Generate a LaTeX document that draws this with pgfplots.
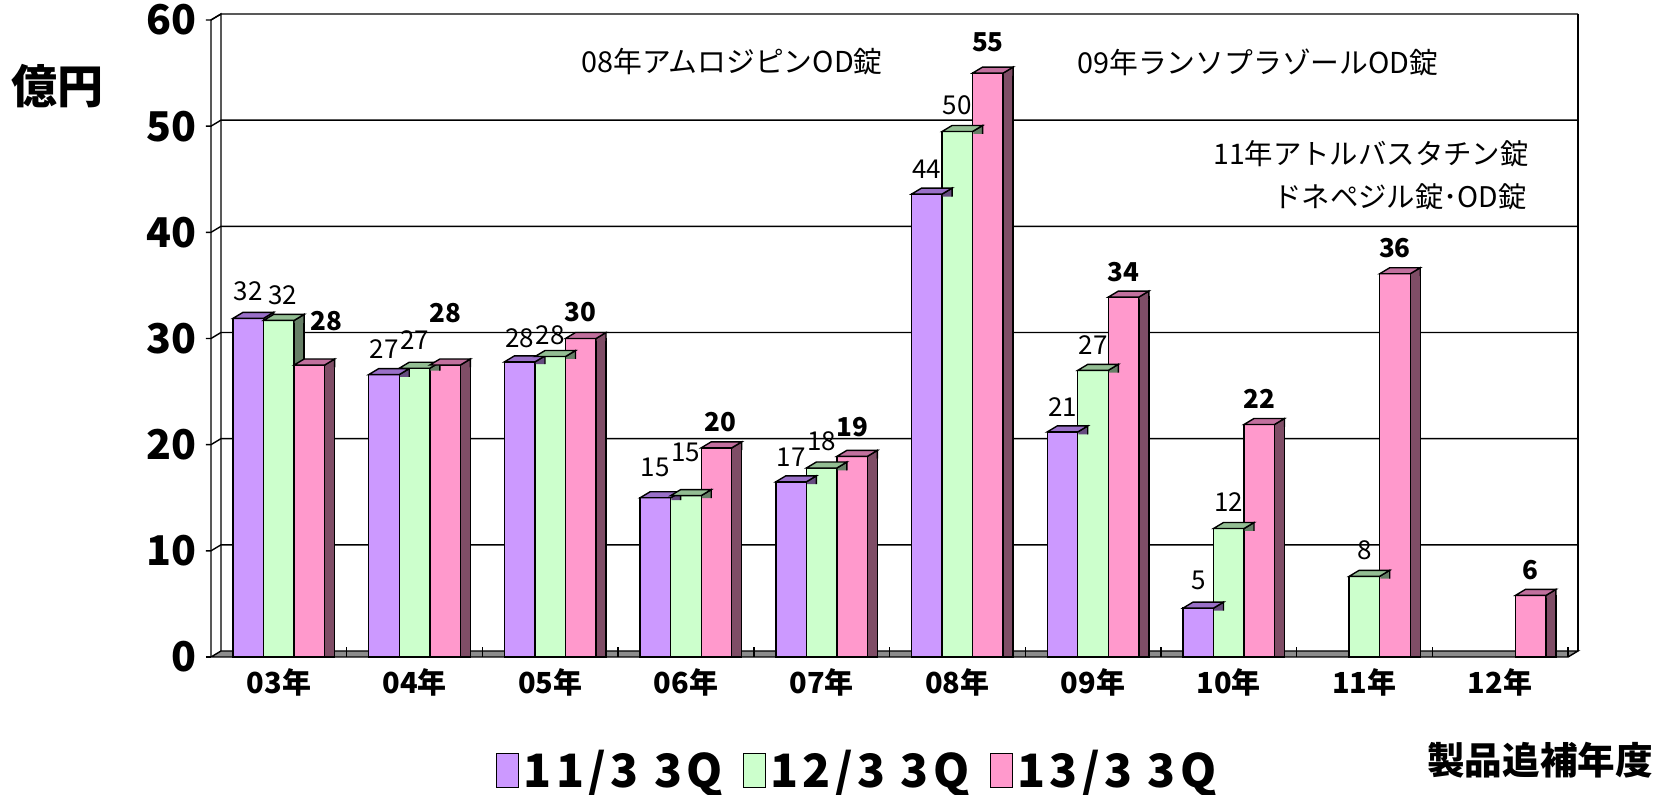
\documentclass[border=0pt]{standalone}
\usepackage{fontspec}
\setmainfont{Noto Sans CJK JP}
\usepackage{pgfplots}
\usepackage{pgfplotstable}
\pgfplotsset{compat=1.18}

\definecolor{frontP}{HTML}{CC99FF}
\definecolor{topP}{HTML}{9A70C8}
\definecolor{sideP}{HTML}{664C80}
\definecolor{frontG}{HTML}{CCFFCC}
\definecolor{topG}{HTML}{93BE93}
\definecolor{sideG}{HTML}{667F66}
\definecolor{frontK}{HTML}{FF99CC}
\definecolor{topK}{HTML}{C2709E}
\definecolor{sideK}{HTML}{7F4D66}

\newcommand\fs[1]{\fontsize{#1}{#1}\selectfont}

% top face + upper end of the side face of a bar (half width 7.63pt, depth 5pt x 3pt)
\newcommand\boxmark[2]{%
  \pgfsetfillcolor{#2}%
  \pgfpathmoveto{\pgfqpoint{7.95pt}{-1.2pt}}%
  \pgfpathlineto{\pgfqpoint{7.95pt}{0.2pt}}%
  \pgfpathlineto{\pgfqpoint{12.63pt}{3pt}}%
  \pgfpathlineto{\pgfqpoint{12.63pt}{-1.2pt}}%
  \pgfpathclose
  \pgfusepathqfill
  \pgfpathmoveto{\pgfqpoint{7.63pt}{0pt}}%
  \pgfpathlineto{\pgfqpoint{12.63pt}{3pt}}%
  \pgfpathlineto{\pgfqpoint{12.63pt}{-1.2pt}}%
  \pgfusepathqstroke
  \pgfsetfillcolor{#1}%
  \pgfpathmoveto{\pgfqpoint{-7.63pt}{0pt}}%
  \pgfpathlineto{\pgfqpoint{7.63pt}{0pt}}%
  \pgfpathlineto{\pgfqpoint{12.63pt}{3pt}}%
  \pgfpathlineto{\pgfqpoint{-2.63pt}{3pt}}%
  \pgfpathclose
  \pgfusepathqfillstroke
}
\pgfdeclareplotmark{boxP}{\boxmark{topP}{sideP}}
\pgfdeclareplotmark{boxG}{\boxmark{topG}{sideG}}
\pgfdeclareplotmark{boxK}{\boxmark{topK}{sideK}}

% x = category (0 = 03年), y = value, lab = label, gap = label gap (px), xo = label x offset (px)
\pgfplotstableread{
x y lab gap xo
0 31.9 32 17 0
1 26.6 27 15 0
2 27.8 28 13 0
3 15.0 15 20 0
4 16.5 17 15 0
5 43.6 44 15 0
6 21.2 21 15 0
7 4.6 5 18 0
}\tabP
\pgfplotstableread{
x y lab gap xo
0 31.7 32 15 4
1 27.2 27 18 0
2 28.3 28 11 0
3 15.2 15 33 0
4 17.8 18 16 0
5 49.5 50 16 0
6 27.0 27 15 0
7 12.1 12 16 0
8 7.6 8 16 0
}\tabG
\pgfplotstableread{
x y lab gap xo
0 27.5 28 33 17
1 27.5 28 41 0
2 30.0 30 16 0
3 19.7 20 15 4
4 18.9 19 19 0
5 55.0 55 21 0
6 33.9 34 15 0
7 21.9 22 15 0
8 36.1 36 15 0
9 5.8 6 15 0
}\tabK

\pgfplotsset{
  front/.style n args={2}{
    ybar, bar width=0.225, bar shift=0pt, fill=#1, draw=black, line width=0.7pt,
    mark=#2, mark options={draw=black, line width=0.7pt, solid},
    point meta=explicit, nodes near coords, nodes near coords align=vertical,
    visualization depends on={\thisrow{gap} \as \lgap},
    visualization depends on={\thisrow{xo} \as \lxo},
    legend image code/.code={\draw[fill=#1, draw=black, line width=0.7pt] (0pt,-8.5pt) rectangle (11pt,8.5pt);},
  },
  side/.style={
    ybar, bar width=0.0737, bar shift=0pt, fill=#1, draw=black, line width=0.7pt, forget plot,
  },
}

\begin{document}
\begin{tikzpicture}
\useasboundingbox (-105.5pt,-69pt) rectangle (728pt,328.5pt);

% floor, left wall and back wall
\begin{scope}[line width=0.7pt]
\draw[fill=black!45] (0,0) -- (678.5pt,0) -- (683.5pt,3pt) -- (5pt,3pt) -- cycle;
\draw (0,0) -- (0,318.5pt) -- (5pt,321.5pt) -- (5pt,3pt);
\draw (-2.5pt,0) -- (0,0);
\foreach \v in {10,20,...,60}
  \draw (-2.5pt,{\v*5.3083pt}) -- (0,{\v*5.3083pt}) -- (5pt,{\v*5.3083pt+3pt}) -- (683.5pt,{\v*5.3083pt+3pt});
\draw (683.5pt,3pt) -- (683.5pt,321.5pt);
\foreach \k in {1,...,10}
  \draw ({\k*67.85pt},0) -- ({\k*67.85pt},5pt);
\end{scope}

\begin{axis}[
  at={(0,0)}, anchor=south west,
  scale only axis, width=678.5pt, height=318.5pt,
  xmin=-0.5, xmax=9.5, ymin=0, ymax=60,
  clip=false,
  axis line style={draw=none},
  major tick length=0pt,
  xtick={0,...,9},
  xticklabels={03年,04年,05年,06年,07年,08年,09年,10年,11年,12年},
  ytick={0,10,...,60},
  /pgf/number format/assume math mode=true,
  xticklabel style={font=\bfseries\fs{14.5}, inner sep=0pt, yshift=-5.5pt},
  yticklabel style={font=\bfseries\fs{20.5}, inner sep=0pt, xshift=-7pt},
  legend columns=3,
  legend style={at={(0.477,-0.178)}, anchor=center, draw=none, fill=none,
    font=\bfseries\fs{23}\addfontfeatures{LetterSpace=10}, nodes={inner sep=2pt},
    /tikz/every even column/.append style={column sep=8pt}},
]
\addplot[side=sideP] table[x expr=\thisrow{x}-0.0756, y=y]{\tabP};
\addplot[front={frontP}{boxP},
  every node near coord/.append style={font=\fs{13}, text=black, inner sep=0pt, yshift=\lgap*0.5pt, xshift=\lxo*0.5pt}]
  table[x expr=\thisrow{x}-0.225, y=y, meta=lab]{\tabP};
\addlegendentry{11/3 3Q}
\addplot[side=sideG] table[x expr=\thisrow{x}+0.1494, y=y]{\tabG};
\addplot[front={frontG}{boxG},
  every node near coord/.append style={font=\fs{13}, text=black, inner sep=0pt, yshift=\lgap*0.5pt, xshift=\lxo*0.5pt}]
  table[x=x, y=y, meta=lab]{\tabG};
\addlegendentry{12/3 3Q}
\addplot[side=sideK] table[x expr=\thisrow{x}+0.3744, y=y]{\tabK};
\addplot[front={frontK}{boxK},
  every node near coord/.append style={font=\bfseries\fs{13}, text=black, inner sep=0pt, yshift=\lgap*0.5pt, xshift=\lxo*0.5pt}]
  table[x expr=\thisrow{x}+0.225, y=y, meta=lab]{\tabK};
\addlegendentry{13/3 3Q}
\end{axis}

\node[font=\bfseries\fs{23}] at (-76.5pt,285.5pt) {億円};
\node[font=\fs{14.4}] at (260.5pt,297.5pt) {08年アムロジピンOD錠};
\node[font=\fs{14.4}] at (523.5pt,297.5pt) {09年ランソプラゾールOD錠};
\node[font=\fs{14.2}] at (580pt,251.5pt) {11年アトルバスタチン錠};
\node[font=\fs{14.2}] at (594.5pt,230pt) {ドネペジル錠･OD錠};
\node[font=\bfseries\fs{18.8}] at (664.5pt,-51.5pt) {製品追補年度};
\end{tikzpicture}
\end{document}
